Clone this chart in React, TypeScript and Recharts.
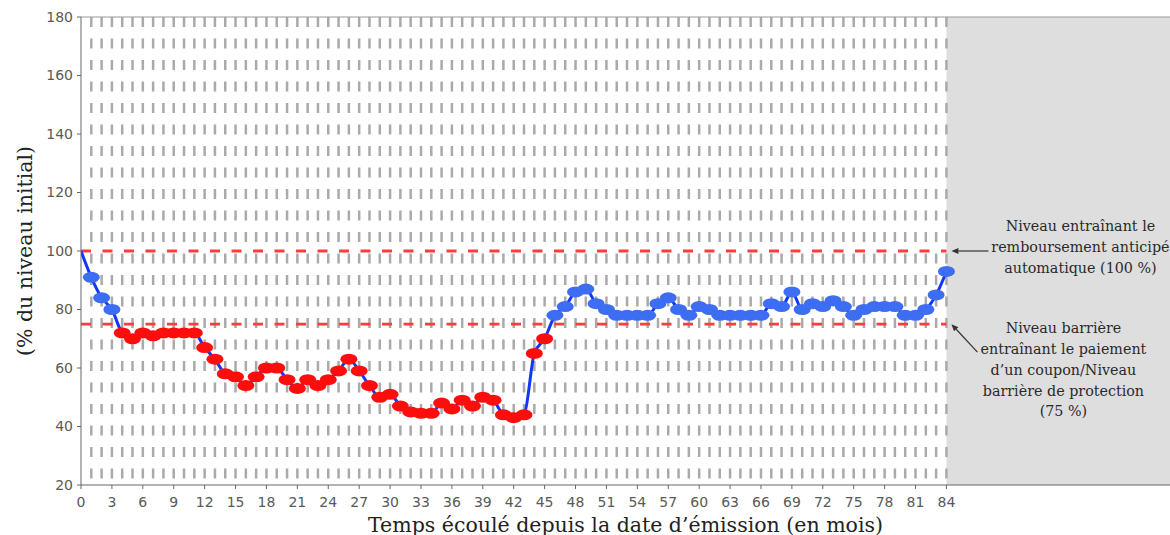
import {
  ComposedChart,
  Line,
  XAxis,
  YAxis,
  ReferenceLine,
  ReferenceArea,
  ReferenceDot,
  Label,
} from 'recharts';

// niveau du sous-jacent, un point par mois (mois 0 à 84)
const levels = [
  100, 91, 84, 80, 72, 70, 72, 71, 72, 72, 72, 72, 67, 63, 58, 57, 54, 57, 60, 60,
  56, 53, 56, 54, 56, 59, 63, 59, 54, 50, 51, 47, 45, 44.5, 44.5, 48, 46, 49, 47, 50,
  49, 44, 43, 44, 65, 70, 78, 81, 86, 87, 82, 80, 78, 78, 78, 78, 82, 84, 80, 78,
  81, 80, 78, 78, 78, 78, 78, 82, 81, 86, 80, 82, 81, 83, 81, 78, 80, 81, 81, 81,
  78, 78, 80, 85, 93,
];

const xTicks = [0, 3, 6, 9, 12, 15, 18, 21, 24, 27, 30, 33, 36, 39, 42, 45, 48, 51, 54, 57, 60, 63, 66, 69, 72, 75, 78, 81, 84];
const yTicks = [20, 40, 60, 80, 100, 120, 140, 160, 180];
const gridMonths = levels.slice(1).map((_, i) => i + 1);

const LAST_MONTH = 84;
const X_MAX = 105.7;
const AUTOCALL_LEVEL = 100;
const BARRIER_LEVEL = 75;

const autocallText = ['Niveau entraînant le', 'remboursement anticipé', 'automatique (100 %)'];
const barrierText = ['Niveau barrière', 'entraînant le paiement', 'd’un coupon/Niveau', 'barrière de protection', '(75 %)'];

const data = levels.map((v, i) => ({ month: i, level: v }));

const serif = 'DejaVu Serif';
const sans = 'DejaVu Sans';

const Arrow = ({ x1, y1, x2, y2 }: { x1: number; y1: number; x2: number; y2: number }) => {
  const dx = x2 - x1;
  const dy = y2 - y1;
  const len = Math.sqrt(dx * dx + dy * dy);
  const ux = dx / len;
  const uy = dy / len;
  const bx = x2 - ux * 7;
  const by = y2 - uy * 7;
  const pts = `${x2},${y2} ${bx - uy * 3},${by + ux * 3} ${bx + uy * 3},${by - ux * 3}`;
  return (
    <g>
      <line x1={x1} y1={y1} x2={bx} y2={by} stroke="#333" strokeWidth={1.2} />
      <polygon points={pts} fill="#333" />
    </g>
  );
};

const AutocallNote = ({ cx, cy }: { cx?: number; cy?: number }) => {
  if (cx == null || cy == null) return null;
  return (
    <g>
      <Arrow x1={cx + 42} y1={cy} x2={cx + 5} y2={cy} />
      {autocallText.map((t, i) => (
        <text key={t} x={cx + 134} y={cy - 20 + i * 21} textAnchor="middle" fontFamily={serif} fontSize={14.3} fill="#2a2a2a">
          {t}
        </text>
      ))}
    </g>
  );
};

const BarrierNote = ({ cx, cy }: { cx?: number; cy?: number }) => {
  if (cx == null || cy == null) return null;
  return (
    <g>
      <Arrow x1={cx + 31} y1={cy + 28} x2={cx + 5} y2={cy} />
      {barrierText.map((t, i) => (
        <text key={t} x={cx + 117} y={cy + 9 + i * 20.8} textAnchor="middle" fontFamily={serif} fontSize={14.3} fill="#2a2a2a">
          {t}
        </text>
      ))}
    </g>
  );
};

const renderDot = (props: any) => {
  const { cx, cy, index, payload } = props;
  if (index === 0 || cx == null) return <g key={`dot-${index}`} />;
  const below = payload.level < BARRIER_LEVEL;
  return (
    <ellipse
      key={`dot-${index}`}
      cx={cx}
      cy={cy}
      rx={8.5}
      ry={5.5}
      fill={below ? '#ff0d0d' : '#3d6df2'}
      stroke="none"
    />
  );
};

const YTitle = (props: any) => {
  const vb = props.viewBox || {};
  const cy = vb.y + vb.height / 2;
  return (
    <text x={32} y={cy} transform={`rotate(-90 32 ${cy})`} textAnchor="middle" fontFamily={serif} fontSize={20.5} fill="#222">
      (% du niveau initial)
    </text>
  );
};

const XTitle = (props: any) => {
  const vb = props.viewBox || {};
  return (
    <text x={vb.x + vb.width / 2} y={531.5} textAnchor="middle" fontFamily={serif} fontSize={20.5} fill="#222">
      Temps écoulé depuis la date d’émission (en mois)
    </text>
  );
};

export default function App() {
  return (
    <div style={{ width: 1170, height: 535, background: '#fff', overflow: 'hidden' }}>
      <style>{'body{margin:0}'}</style>
      <ComposedChart width={1170} height={535} data={data} margin={{ top: 17, right: 0, left: 0, bottom: 0 }}>
        <ReferenceArea x1={LAST_MONTH} x2={X_MAX} y1={20} y2={180} fill="#dedede" fillOpacity={1} stroke="none" />
        {gridMonths.map(m => (
          <ReferenceLine
            key={`g-${m}`}
            segment={[{ x: m, y: 180 }, { x: m, y: 20 }]}
            stroke="#aaaaaa"
            strokeWidth={2.5}
            strokeDasharray="10 11.5"
          />
        ))}
        <ReferenceLine y={180} stroke="#999" strokeWidth={1} />
        <ReferenceLine
          segment={[{ x: 0, y: AUTOCALL_LEVEL }, { x: LAST_MONTH, y: AUTOCALL_LEVEL }]}
          stroke="#ff3b3b"
          strokeWidth={2.8}
          strokeDasharray="10 11.5"
        />
        <ReferenceLine
          segment={[{ x: 0, y: BARRIER_LEVEL }, { x: LAST_MONTH, y: BARRIER_LEVEL }]}
          stroke="#ff3b3b"
          strokeWidth={2.8}
          strokeDasharray="10 11.5"
        />
        <XAxis
          type="number"
          dataKey="month"
          domain={[0, X_MAX]}
          ticks={xTicks}
          allowDataOverflow
          height={50}
          tickSize={4}
          tickMargin={8}
          stroke="#666"
          tick={{ fill: '#595959', fontSize: 14, fontFamily: sans }}
        >
          <Label content={<XTitle />} />
        </XAxis>
        <YAxis
          domain={[20, 180]}
          ticks={yTicks}
          width={81}
          tickSize={4}
          tickMargin={4}
          stroke="#666"
          tick={{ fill: '#595959', fontSize: 14, fontFamily: sans }}
        >
          <Label content={<YTitle />} />
        </YAxis>
        <Line
          type="monotone"
          dataKey="level"
          stroke="none"
          dot={renderDot}
          activeDot={false}
          isAnimationActive={false}
        />
        <Line
          type="monotone"
          dataKey="level"
          stroke="#1236ff"
          strokeWidth={3}
          dot={false}
          activeDot={false}
          isAnimationActive={false}
        />
        <ReferenceDot x={LAST_MONTH} y={AUTOCALL_LEVEL} r={0} shape={(p: any) => <AutocallNote cx={p.cx} cy={p.cy} />} />
        <ReferenceDot x={LAST_MONTH} y={BARRIER_LEVEL} r={0} shape={(p: any) => <BarrierNote cx={p.cx} cy={p.cy} />} />
      </ComposedChart>
    </div>
  );
}
